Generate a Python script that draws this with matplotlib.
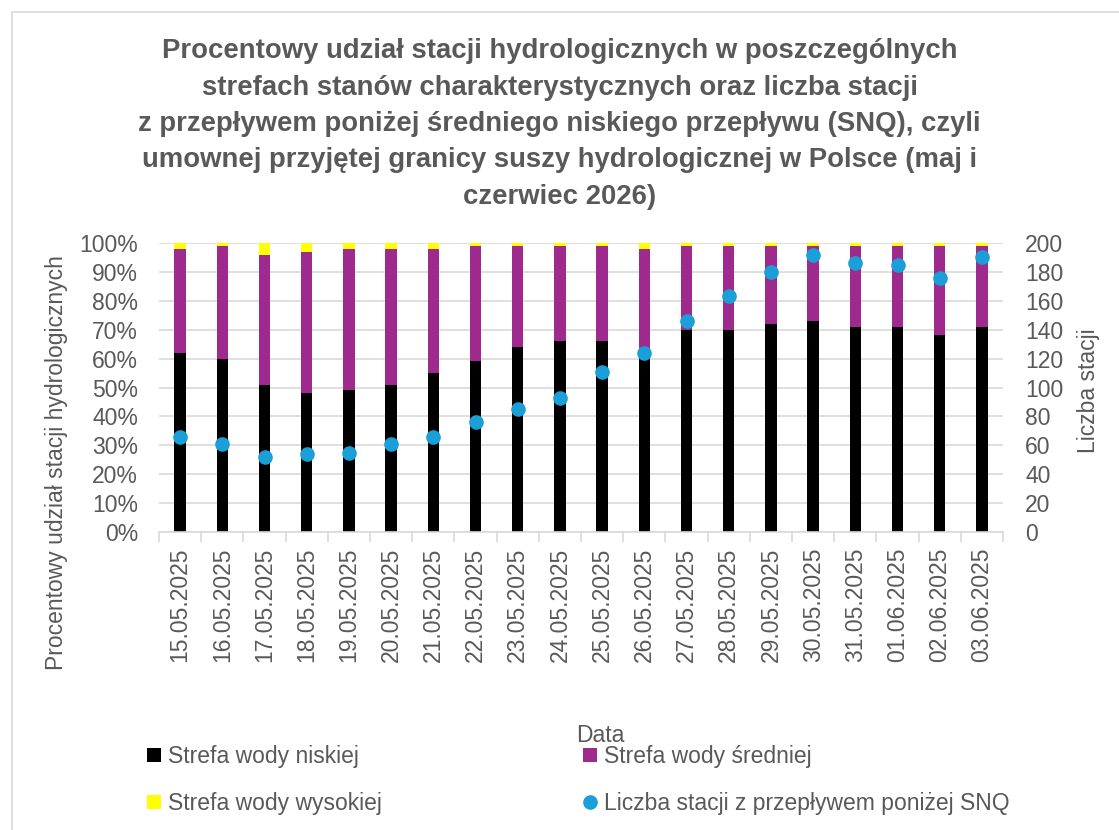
import matplotlib
matplotlib.use("Agg")
import matplotlib.pyplot as plt
from matplotlib.patches import Rectangle
import numpy as np

dates = ["15.05.2025", "16.05.2025", "17.05.2025", "18.05.2025", "19.05.2025",
         "20.05.2025", "21.05.2025", "22.05.2025", "23.05.2025", "24.05.2025",
         "25.05.2025", "26.05.2025", "27.05.2025", "28.05.2025", "29.05.2025",
         "30.05.2025", "31.05.2025", "01.06.2025", "02.06.2025", "03.06.2025"]
niska = [62, 60, 51, 48, 49, 51, 55, 59, 64, 66, 66, 61, 70, 70, 72, 73, 71, 71, 68, 71]
srednia = [36, 39, 45, 49, 49, 47, 43, 40, 35, 33, 33, 37, 29, 29, 27, 26, 28, 28, 31, 28]
wysoka = [2, 1, 4, 3, 2, 2, 2, 1, 1, 1, 1, 2, 1, 1, 1, 1, 1, 1, 1, 1]
liczba_snq = [66, 61, 52, 54, 55, 61, 66, 76, 85, 93, 111, 124, 146, 163, 180, 192, 186, 185, 176, 190]

title = ("Procentowy udział stacji hydrologicznych w poszczególnych\n"
         "strefach stanów charakterystycznych oraz liczba stacji\n"
         "z przepływem poniżej średniego niskiego przepływu (SNQ), czyli\n"
         "umownej przyjętej granicy suszy hydrologicznej w Polsce (maj i\n"
         "czerwiec 2026)")

plt.rcParams['font.family'] = ['Liberation Sans', 'DejaVu Sans']
GRAY = '#595959'
FS = 16.5
W, H = 1119, 830
fig = plt.figure(figsize=(W / 100, H / 100), dpi=100)

fig.patches.append(Rectangle((12 / W, -0.1), 1.2, 1 - 12 / H + 0.1, transform=fig.transFigure,
                             fill=False, edgecolor='#D9D9D9', linewidth=1.2))

ax = fig.add_axes([159 / W, 1 - 532 / H, (1003 - 159) / W, (532 - 243) / H])
x = np.arange(len(dates))
bw = 0.27
n = np.array(niska); s = np.array(srednia); w = np.array(wysoka)
b1 = ax.bar(x, n, bw, color='#000000', zorder=2)
b2 = ax.bar(x, s, bw, bottom=n, color='#9E2A8E', zorder=2)
b3 = ax.bar(x, w, bw, bottom=n + s, color='#FFFF00', zorder=2)

ax.set_ylim(0, 100)
ax.set_xlim(-0.5, len(dates) - 0.5)
ax.set_yticks(np.arange(0, 101, 10))
ax.set_yticklabels([f"{v}%" for v in range(0, 101, 10)])
ax.yaxis.grid(True, color='#D9D9D9', linewidth=1.2, zorder=0)
ax.set_axisbelow(True)
for sp in ['top', 'right', 'left']:
    ax.spines[sp].set_visible(False)
ax.spines['bottom'].set_color('#D9D9D9')
ax.spines['bottom'].set_linewidth(1.2)
ax.set_xticks(x)
ax.set_xticklabels(dates, rotation=90)
ax.set_xticks(np.arange(-0.5, len(dates), 1), minor=True)
ax.tick_params(axis='x', which='major', length=0, pad=11, labelsize=FS, labelcolor=GRAY)
ax.tick_params(axis='x', which='minor', length=7, color='#D9D9D9', width=1.2)
ax.tick_params(axis='y', length=0, labelsize=FS, labelcolor=GRAY, pad=15)
ax.set_ylabel("Procentowy udział stacji hydrologicznych", fontsize=FS, color=GRAY)
ax.yaxis.label.set_va('center')
ax.yaxis.set_label_coords(-0.121, 0.24)

ax2 = ax.twinx()
ax2.set_ylim(0, 200)
ax2.set_yticks(np.arange(0, 201, 20))
for sp in ax2.spines.values():
    sp.set_visible(False)
ax2.tick_params(axis='y', length=0, labelsize=FS, labelcolor=GRAY, pad=16)
l1, = ax2.plot(x, liczba_snq, linestyle='none', marker='o', markersize=9.5,
               color='#1A9FD8', markeredgecolor='#1A9FD8', zorder=3)
ax2.set_ylabel("Liczba stacji", fontsize=FS, color=GRAY)
ax2.yaxis.label.set_va('center')
ax2.yaxis.set_label_coords(1.101, 0.49)

fig.text(0.5, 1 - 124 / H, title, ha='center', va='center', fontsize=19.8, fontweight='bold',
         color=GRAY, linespacing=1.52)
fig.text(600 / W, 1 - 735 / H, "Data", ha='center', va='center', fontsize=FS, color=GRAY)

leg = fig.legend([b1, b3, b2, l1],
                 ['Strefa wody niskiej', 'Strefa wody wysokiej', 'Strefa wody średniej',
                  'Liczba stacji z przepływem poniżej SNQ'],
                 loc='upper left', bbox_to_anchor=(147 / W, 1 - 745 / H), ncol=2, frameon=False,
                 fontsize=FS, labelcolor=GRAY, handlelength=0.62, handleheight=0.62, handletextpad=0.28,
                 columnspacing=8.8, labelspacing=1.05, borderpad=0, borderaxespad=0)

fig.savefig("out.png", dpi=100)
